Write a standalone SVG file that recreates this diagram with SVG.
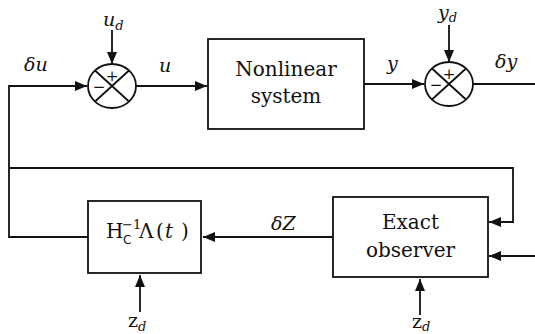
<svg xmlns="http://www.w3.org/2000/svg" width="535" height="334" viewBox="0 0 535 334">
<style>
.ln{fill:none;stroke:#111;stroke-width:1.8}
.bx{fill:#fff;stroke:#111;stroke-width:1.8}
.sf{font-family:'DejaVu Serif','Liberation Serif',serif;fill:#111}
.t{font-size:20px;text-anchor:middle}
.m{font-size:19px;font-style:italic}
.s{font-size:13px}
.pm{font-family:'DejaVu Serif',serif;font-size:15px;fill:#111;text-anchor:middle}
</style>
<defs>
<marker id="ah" markerUnits="userSpaceOnUse" markerWidth="13" markerHeight="11" refX="12" refY="5" orient="auto">
<path d="M0,0 L12,5 L0,10 z" fill="#111"/>
</marker>
</defs>
<rect width="535" height="334" fill="#fff"/>
<g id="connectors">
<path class="ln" d="M112,30 L112,64" marker-end="url(#ah)"/>
<path class="ln" d="M88,237 L9,237 L9,86 L87,86" marker-end="url(#ah)"/>
<path class="ln" d="M9,168 L513,168 L513,222 L489,222" marker-end="url(#ah)"/>
<path class="ln" d="M136,86 L207,86" marker-end="url(#ah)"/>
<path class="ln" d="M364,84 L424,84" marker-end="url(#ah)"/>
<path class="ln" d="M449,25 L449,62" marker-end="url(#ah)"/>
<path class="ln" d="M473,84 L535,84"/>
<path class="ln" d="M535,256 L489,256" marker-end="url(#ah)"/>
<path class="ln" d="M333,237 L203,237" marker-end="url(#ah)"/>
<path class="ln" d="M140,312 L140,275" marker-end="url(#ah)"/>
<path class="ln" d="M420,315 L420,279" marker-end="url(#ah)"/>
</g>
<g id="sum1">
<ellipse class="bx" cx="112" cy="86" rx="24" ry="22"/>
<path class="ln" d="M95,70.5 L129,101.5 M129,70.5 L95,101.5"/>
<text class="pm" x="112" y="81">+</text>
<text class="pm" x="99" y="92">−</text>
</g>
<g id="sum2">
<ellipse class="bx" cx="449" cy="84" rx="24" ry="22"/>
<path class="ln" d="M432,68.5 L466,99.5 M466,68.5 L432,99.5"/>
<text class="pm" x="449" y="79">+</text>
<text class="pm" x="436" y="90">−</text>
</g>
<g id="nonlinear">
<rect class="bx" x="208" y="39" width="156" height="90"/>
<text class="sf t" x="286" y="76">Nonlinear</text>
<text class="sf t" x="286" y="103">system</text>
</g>
<g id="observer">
<rect class="bx" x="333" y="197" width="155" height="80"/>
<text class="sf t" x="410.5" y="229">Exact</text>
<text class="sf t" x="410.5" y="257">observer</text>
</g>
<g id="hbox">
<rect class="bx" x="88" y="201" width="113" height="72"/>
<text class="sf" font-size="20">
<tspan x="106" y="238">H</tspan>
<tspan x="139" y="238">Λ</tspan>
<tspan x="156" y="238">(</tspan>
<tspan x="165" y="238" font-style="italic">t</tspan>
<tspan x="181" y="238">)</tspan>
</text>
<text font-family="'DejaVu Sans',sans-serif" font-size="12" fill="#111" x="123" y="244">C</text>
<text class="sf" font-size="13" x="122" y="229">−1</text>
</g>
<g id="labels">
<text class="sf m" x="24" y="71">δu</text>
<text class="sf m" x="159" y="72">u</text>
<text class="sf m" x="103" y="26">u<tspan class="s" dy="4">d</tspan></text>
<text class="sf m" x="387" y="70">y</text>
<text class="sf m" x="438" y="19">y<tspan class="s" dy="3">d</tspan></text>
<text class="sf m" x="495" y="68">δy</text>
<text class="sf m" x="271" y="230">δZ</text>
<text class="sf" font-size="19" x="128" y="327">z<tspan font-style="italic" font-size="13" dy="4">d</tspan></text>
<text class="sf" font-size="19" x="412" y="328">z<tspan font-style="italic" font-size="13" dy="3">d</tspan></text>
</g>
</svg>
